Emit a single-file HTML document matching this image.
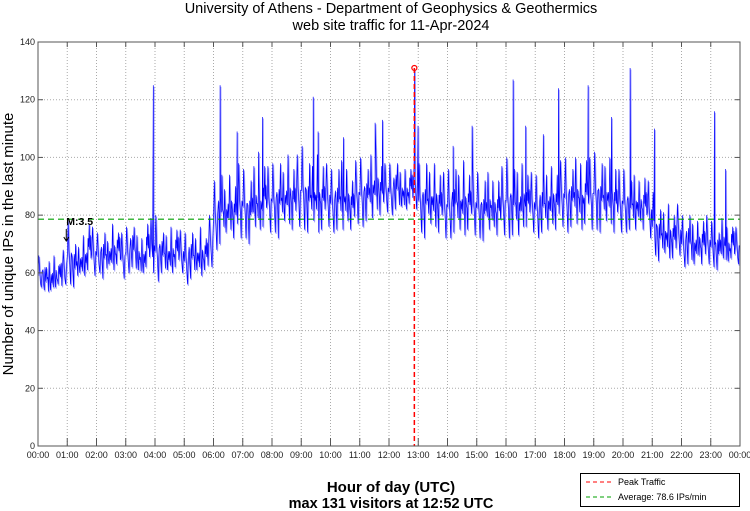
<!DOCTYPE html>
<html><head><meta charset="utf-8"><style>
body{margin:0;background:#fff;}
svg{display:block;font-family:"Liberation Sans",sans-serif;}
</style></head><body>
<svg id="chart" width="750" height="511" viewBox="0 0 750 511">
<rect width="750" height="511" fill="#fff"/>
<text x="391" y="13" text-anchor="middle" font-size="14.5">University of Athens - Department of Geophysics &amp; Geothermics</text>
<text x="391" y="30" text-anchor="middle" font-size="14.5">web site traffic for 11-Apr-2024</text>
<g id="grid"></g>
<g id="series"></g>
<g id="axes"></g>
<text transform="translate(13,244) rotate(-90)" text-anchor="middle" font-size="15">Number of unique IPs in the last minute</text>
<text x="391" y="492" text-anchor="middle" font-size="15" font-weight="bold">Hour of day (UTC)</text>
<text x="391" y="508" text-anchor="middle" font-size="14.5" font-weight="bold">max 131 visitors at 12:52 UTC</text>
<g>
<rect x="580.5" y="473.5" width="159" height="33" fill="#fff" stroke="#000" stroke-width="1"/>
<line x1="586" y1="482" x2="614" y2="482" stroke="#ff0000" stroke-dasharray="4,3"/>
<text x="618" y="485" font-size="9">Peak Traffic</text>
<line x1="586" y1="497" x2="614" y2="497" stroke="#00a000" stroke-dasharray="4,3"/>
<text x="618" y="500" font-size="9">Average: 78.6 IPs/min</text>
</g>
</svg>
<script>
const yTicks=[0,20,40,60,80,100,120,140];
const xTickLabels=["00:00","01:00","02:00","03:00","04:00","05:00","06:00","07:00","08:00","09:00","10:00","11:00","12:00","13:00","14:00","15:00","16:00","17:00","18:00","19:00","20:00","21:00","22:00","23:00","00:00"];
const binLows=[55,54,52,53,55,56, 56,55,58,57,60,59, 60,58,61,59,62,58, 60,62,59,58,61,60, 57,60,59,58,61,60, 56,58,59,57,60,62,
68,70,72,73,71,72, 72,70,74,73,75,74, 74,72,76,75,74,76, 75,74,76,72,74,76, 74,75,73,76,74,77, 76,78,77,80,79,81,
80,82,81,80,83,82, 74,72,75,74,73,72, 72,74,73,71,74,73, 72,71,73,74,72,73, 72,73,71,74,75,74, 72,74,73,75,74,76,
74,76,75,73,76,75, 75,74,76,75,73,74, 74,75,73,76,74,72, 66,64,65,63,64,66, 62,63,61,64,62,63, 62,61,63,62,64,63];
const binHighs=[66,64,65,67,66,68, 78,72,70,74,80,76, 74,76,72,78,77,74, 76,78,74,73,80,79, 80,76,74,77,78,75, 74,76,73,77,75,80,
92,96,90,95,93,98, 96,94,98,95,100,97, 98,100,96,102,99,101, 104,100,98,102,100,98, 96,98,100,97,95,99, 100,98,102,104,100,98,
98,100,96,97,99,100, 98,100,96,99,97,95, 96,98,95,100,97,96, 95,94,96,93,95,97, 100,98,96,99,97,95, 94,96,95,98,97,99,
100,98,101,99,102,100, 102,100,98,101,99,96, 96,94,95,93,96,92, 88,84,82,85,83,84, 80,82,78,79,81,80, 78,76,80,77,79,76];
const spikeMinutes=[236,373,408,452,460,564,574,626,691,706,772,779,851,890,974,1000,1036,1067,1128,1176,1214,1264,1387,1410];
const spikeValues=[125,125,109,102,114,121,109,107,112,113,131,111,104,111,127,111,108,124,125,114,131,110,116,96];
const peakMinute=772, peakValue=131, averageValue=78.6;
const markerMinute=58, markerLabel="M:3.5";

const L=38,R=740,T=42,B=446;
const xs=m=>L+(R-L)*m/1440;
const ys=v=>B-(B-T)*v/140;
const NS="http://www.w3.org/2000/svg";
function mk(tag,attrs,parent){const e=document.createElementNS(NS,tag);for(const k in attrs)e.setAttribute(k,attrs[k]);parent.appendChild(e);return e;}
const grid=document.getElementById('grid'),axes=document.getElementById('axes'),ser=document.getElementById('series');
yTicks.forEach(v=>{
 if(v>0&&v<140){const g=mk('line',{x1:L,x2:R,y1:ys(v),y2:ys(v),stroke:'#aaa','stroke-dasharray':'1,2'},grid);
 
 }
 mk('line',{x1:L,x2:L+5,y1:ys(v),y2:ys(v),stroke:'#555'},axes);
 mk('line',{x1:R-5,x2:R,y1:ys(v),y2:ys(v),stroke:'#555'},axes);
 const t=mk('text',{x:L-3,y:ys(v)+3,'text-anchor':'end','font-size':9,fill:'#222'},axes);t.textContent=v;
 
 
});
xTickLabels.forEach((lab,i)=>{
 const x=xs(i*60);
 if(i>0&&i<24){const g=mk('line',{x1:x,x2:x,y1:T,y2:B,stroke:'#aaa','stroke-dasharray':'1,2'},grid);
 
 }
 mk('line',{x1:x,x2:x,y1:B-8,y2:B,stroke:'#555'},axes);
 mk('line',{x1:x,x2:x,y1:T,y2:T+5,stroke:'#555'},axes);
 const t=mk('text',{x:x,y:B+12,'text-anchor':'middle','font-size':9,fill:'#222'},axes);t.textContent=lab;
 
 
});
mk('rect',{x:L,y:T,width:R-L,height:B-T,fill:'none',stroke:'#555'},axes);
let pts=[];
binLows.forEach((lo,i)=>{
 const hi=binHighs[i],mid=(lo+hi)/2-1;
 const patterns=[
  [mid,hi,mid+2,mid-3,lo,mid+1],
  [mid-2,lo+1,mid+3,mid,hi-3,mid-1,mid+4,mid-4],
  [mid+1,mid-4,hi-1,mid,lo+2,mid+2,mid-1],
  [mid+3,mid-2,lo,mid+4,mid-1,hi-2,mid]
 ];
 const vals=patterns[(i*7+Math.floor(i/3))%4];
 vals.forEach((v,j)=>pts.push([i*10+j*10/vals.length,v]));
});
spikeMinutes.forEach((m,i)=>pts.push([m+0.5,spikeValues[i]]));
pts.sort((a,b)=>a[0]-b[0]);
const d=pts.map((p,i)=>(i?'L':'M')+xs(p[0]).toFixed(1)+','+ys(p[1]).toFixed(1)).join('');
const light=mk('path',{d:d,fill:'none',stroke:'#a0a0ff','stroke-width':1,transform:'translate(0.8,1.5)'},ser);


const line=mk('path',{d:d,fill:'none',stroke:'#0000ff','stroke-width':0.7},ser);


const avg=mk('line',{x1:L,x2:R,y1:ys(averageValue),y2:ys(averageValue),stroke:'#00a000','stroke-width':1.2,'stroke-dasharray':'6,4'},ser);


const pk=mk('line',{x1:xs(peakMinute),x2:xs(peakMinute),y1:ys(peakValue),y2:B,stroke:'#ff0000','stroke-width':1.5,'stroke-dasharray':'5,3'},ser);


const pc=mk('circle',{cx:xs(peakMinute),cy:ys(peakValue),r:2.5,fill:'none',stroke:'#ff0000','stroke-width':1.2},ser);


const mt=mk('text',{x:xs(markerMinute),y:225,'font-size':10.5,'font-weight':'bold',fill:'#000'},ser);mt.textContent=markerLabel;


const ax=xs(markerMinute);
const ma=mk('path',{d:`M${ax},229 L${ax},241 M${ax-2.5},237 L${ax},241 L${ax+2.5},237`,fill:'none',stroke:'#000','stroke-width':1},ser);


</script>
</body></html>
